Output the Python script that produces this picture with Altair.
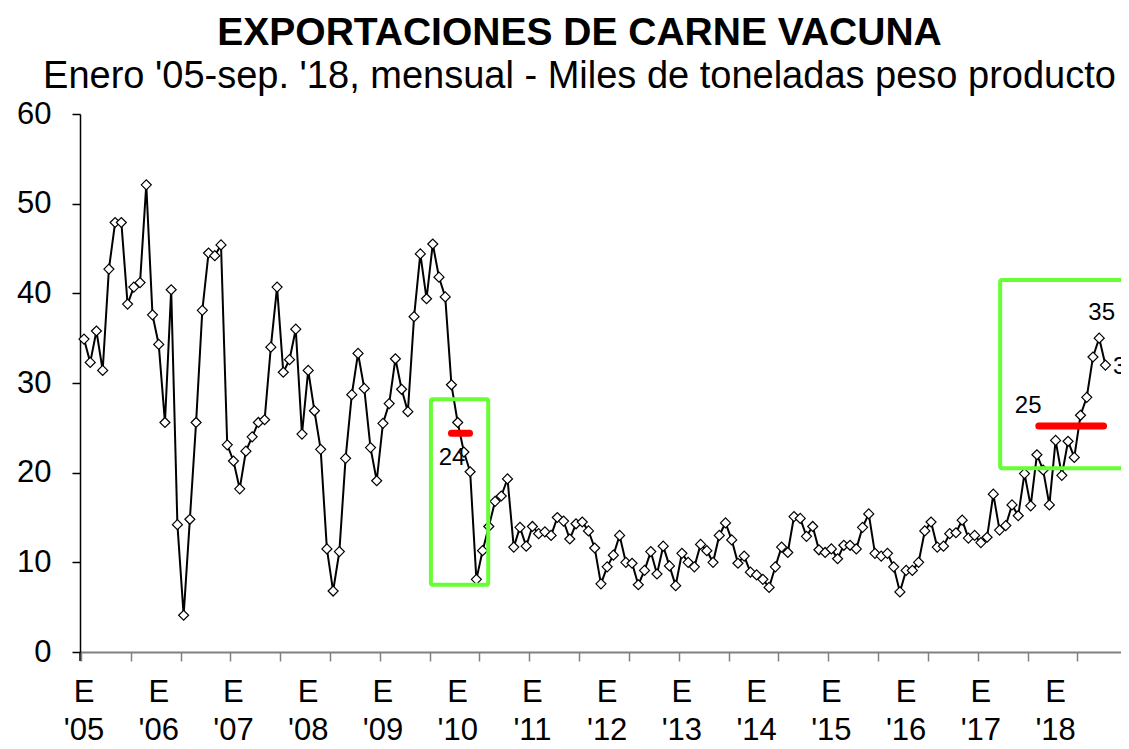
import altair as alt
import pandas as pd

# ---- data (thousand tonnes, product weight), Jan 2005 - Sep 2018 ----
y2005 = [34.9, 32.3, 35.8, 31.4, 42.7, 47.9, 47.9, 38.8, 40.7, 41.2, 52.1, 37.6]
y2006 = [34.3, 25.6, 40.4, 14.2, 4.1, 14.8, 25.6, 38.1, 44.5, 44.2, 45.4, 23.1]
y2007 = [21.3, 18.2, 22.4, 24.0, 25.6, 25.9, 34.0, 40.7, 31.2, 32.6, 36.0, 24.3]
y2008 = [31.4, 26.9, 22.6, 11.5, 6.8, 11.2, 21.6, 28.7, 33.3, 29.4, 22.8, 19.1]
y2009 = [25.5, 27.7, 32.7, 29.3, 26.8, 37.4, 44.4, 39.4, 45.5, 41.8, 39.6, 29.8]
y2010 = [25.6, 22.3, 20.1, 8.1, 11.3, 14.0, 16.8, 17.4, 19.3, 11.7, 13.9, 11.8]
y2011 = [14.0, 13.2, 13.4, 13.0, 15.0, 14.6, 12.6, 14.3, 14.5, 13.5, 11.6, 7.6]
y2012 = [9.5, 10.8, 13.0, 10.0, 9.9, 7.5, 9.1, 11.2, 8.7, 11.8, 9.6, 7.4]
y2013 = [11.0, 10.0, 9.5, 12.0, 11.3, 10.0, 13.0, 14.4, 12.5, 9.9, 10.7, 8.9]
y2014 = [8.6, 8.1, 7.2, 9.5, 11.7, 11.1, 15.1, 14.9, 12.9, 14.0, 11.4, 11.1]
y2015 = [11.5, 10.4, 11.9, 11.9, 11.5, 13.9, 15.4, 11.0, 10.7, 11.0, 9.5, 6.7]
y2016 = [9.1, 9.1, 10.0, 13.5, 14.5, 11.7, 11.8, 13.2, 13.3, 14.7, 12.7, 13.0]
y2017 = [12.2, 12.8, 17.6, 13.6, 14.1, 16.4, 15.2, 19.9, 16.3, 22.0, 20.3, 16.4]
y2018 = [23.6, 19.7, 23.5, 21.7, 26.4, 28.4, 32.9, 35.0, 32.0]

years = ["'05", "'06", "'07", "'08", "'09", "'10", "'11", "'12", "'13",
         "'14", "'15", "'16", "'17", "'18"]

# annotations (x in month slots, y in thousand tonnes)
box_x = [56.2, 147.6]
box_x2 = [65.4, 172.0]
box_y = [7.5, 20.5]
box_y2 = [28.2, 41.5]

avg_x = [59.5, 153.8]
avg_x2 = [62.4, 164.2]
avg_y = [24.4, 25.2]

ann_text = ["24", "25", "35", "32"]
ann_x = [59.6, 152.1, 163.9, 165.7]
ann_y = [21.6, 27.4, 37.8, 31.8]
ann_align = ["center", "center", "center", "left"]

# ---- tables ----
values = (y2005 + y2006 + y2007 + y2008 + y2009 + y2010 + y2011 + y2012 +
          y2013 + y2014 + y2015 + y2016 + y2017 + y2018)
df = pd.DataFrame({"pos": [i + 0.5 for i in range(len(values))], "val": values})
labels = pd.DataFrame({"pos": [12 * k + 0.5 for k in range(len(years))],
                       "lab": ["E\n" + y for y in years]})
boxes = pd.DataFrame({"x": box_x, "x2": box_x2, "y": box_y, "y2": box_y2})
avgs = pd.DataFrame({"x": avg_x, "x2": avg_x2, "y": avg_y})
anns = pd.DataFrame({"t": ann_text, "x": ann_x, "y": ann_y, "a": ann_align})

W, H = 1041, 538
FONT = "Liberation Sans"

xscale = alt.Scale(domain=[-0.14, 167.0], nice=False, zero=False)
yscale = alt.Scale(domain=[0, 60], nice=False)

x_enc = alt.X("pos:Q", scale=xscale, axis=alt.Axis(
    values=list(range(168)), labels=False, title=None, grid=False,
    tickSize=9, tickColor="#808080", tickWidth=1.5,
    domainColor="#808080", domainWidth=2))
y_enc = alt.Y("val:Q", scale=yscale, axis=alt.Axis(
    values=list(range(0, 61, 10)), title=None, grid=False,
    tickSize=8, tickColor="black", tickWidth=1.5,
    domainColor="black", domainWidth=1.5,
    labelFont=FONT, labelFontSize=31, labelColor="black", labelPadding=21))

line = alt.Chart(df).mark_line(color="black", strokeWidth=2).encode(x=x_enc, y=y_enc)
pts = alt.Chart(df).mark_point(shape="diamond", filled=True, fill="white",
                               stroke="black", strokeWidth=1.2, size=100,
                               opacity=1).encode(x="pos:Q", y="val:Q")

rects = alt.Chart(boxes).mark_rect(fillOpacity=0, stroke="#66ff33", strokeWidth=4,
                                   cornerRadius=2).encode(
    x="x:Q", x2="x2:Q", y="y:Q", y2="y2:Q")
rules = alt.Chart(avgs).mark_rule(color="#ff0000", strokeWidth=7, strokeCap="round").encode(
    x="x:Q", x2="x2:Q", y="y:Q")

# y-axis line continues a little below the x axis
ystub = alt.Chart(df.head(1)).mark_rule(color="black", strokeWidth=1.5).encode(
    x=alt.value(0), y=alt.value(H), y2=alt.value(H + 9))

ann_c = alt.Chart(anns[anns.a == "center"]).mark_text(
    font=FONT, fontSize=24, color="black", align="center", baseline="middle").encode(
    x="x:Q", y="y:Q", text="t:N")
ann_l = alt.Chart(anns[anns.a == "left"]).mark_text(
    font=FONT, fontSize=24, color="black", align="left", baseline="middle").encode(
    x="x:Q", y="y:Q", text="t:N")

xlab = alt.Chart(labels).mark_text(
    font=FONT, fontSize=31, color="black", align="center", baseline="alphabetic",
    lineBreak="\n", lineHeight=38).encode(
    x="pos:Q", y=alt.value(H + 50), text="lab:N")

chart = alt.layer(line, pts, rects, rules, ystub, ann_c, ann_l, xlab).properties(
    width=W, height=H,
    title=alt.TitleParams(
        text="EXPORTACIONES DE CARNE VACUNA",
        subtitle="Enero '05-sep. '18, mensual - Miles de toneladas peso producto",
        font=FONT, fontSize=39, fontWeight="bold", color="black",
        subtitleFont=FONT, subtitleFontSize=38, subtitleColor="black",
        subtitlePadding=5, anchor="middle", dx=-21, offset=2),
    autosize=alt.AutoSizeParams(type="none"),
    padding={"left": 72, "top": 106, "right": 0, "bottom": 89},
).configure_view(stroke=None)

chart.save("out.html", embed_options={"renderer": "svg", "actions": False})
